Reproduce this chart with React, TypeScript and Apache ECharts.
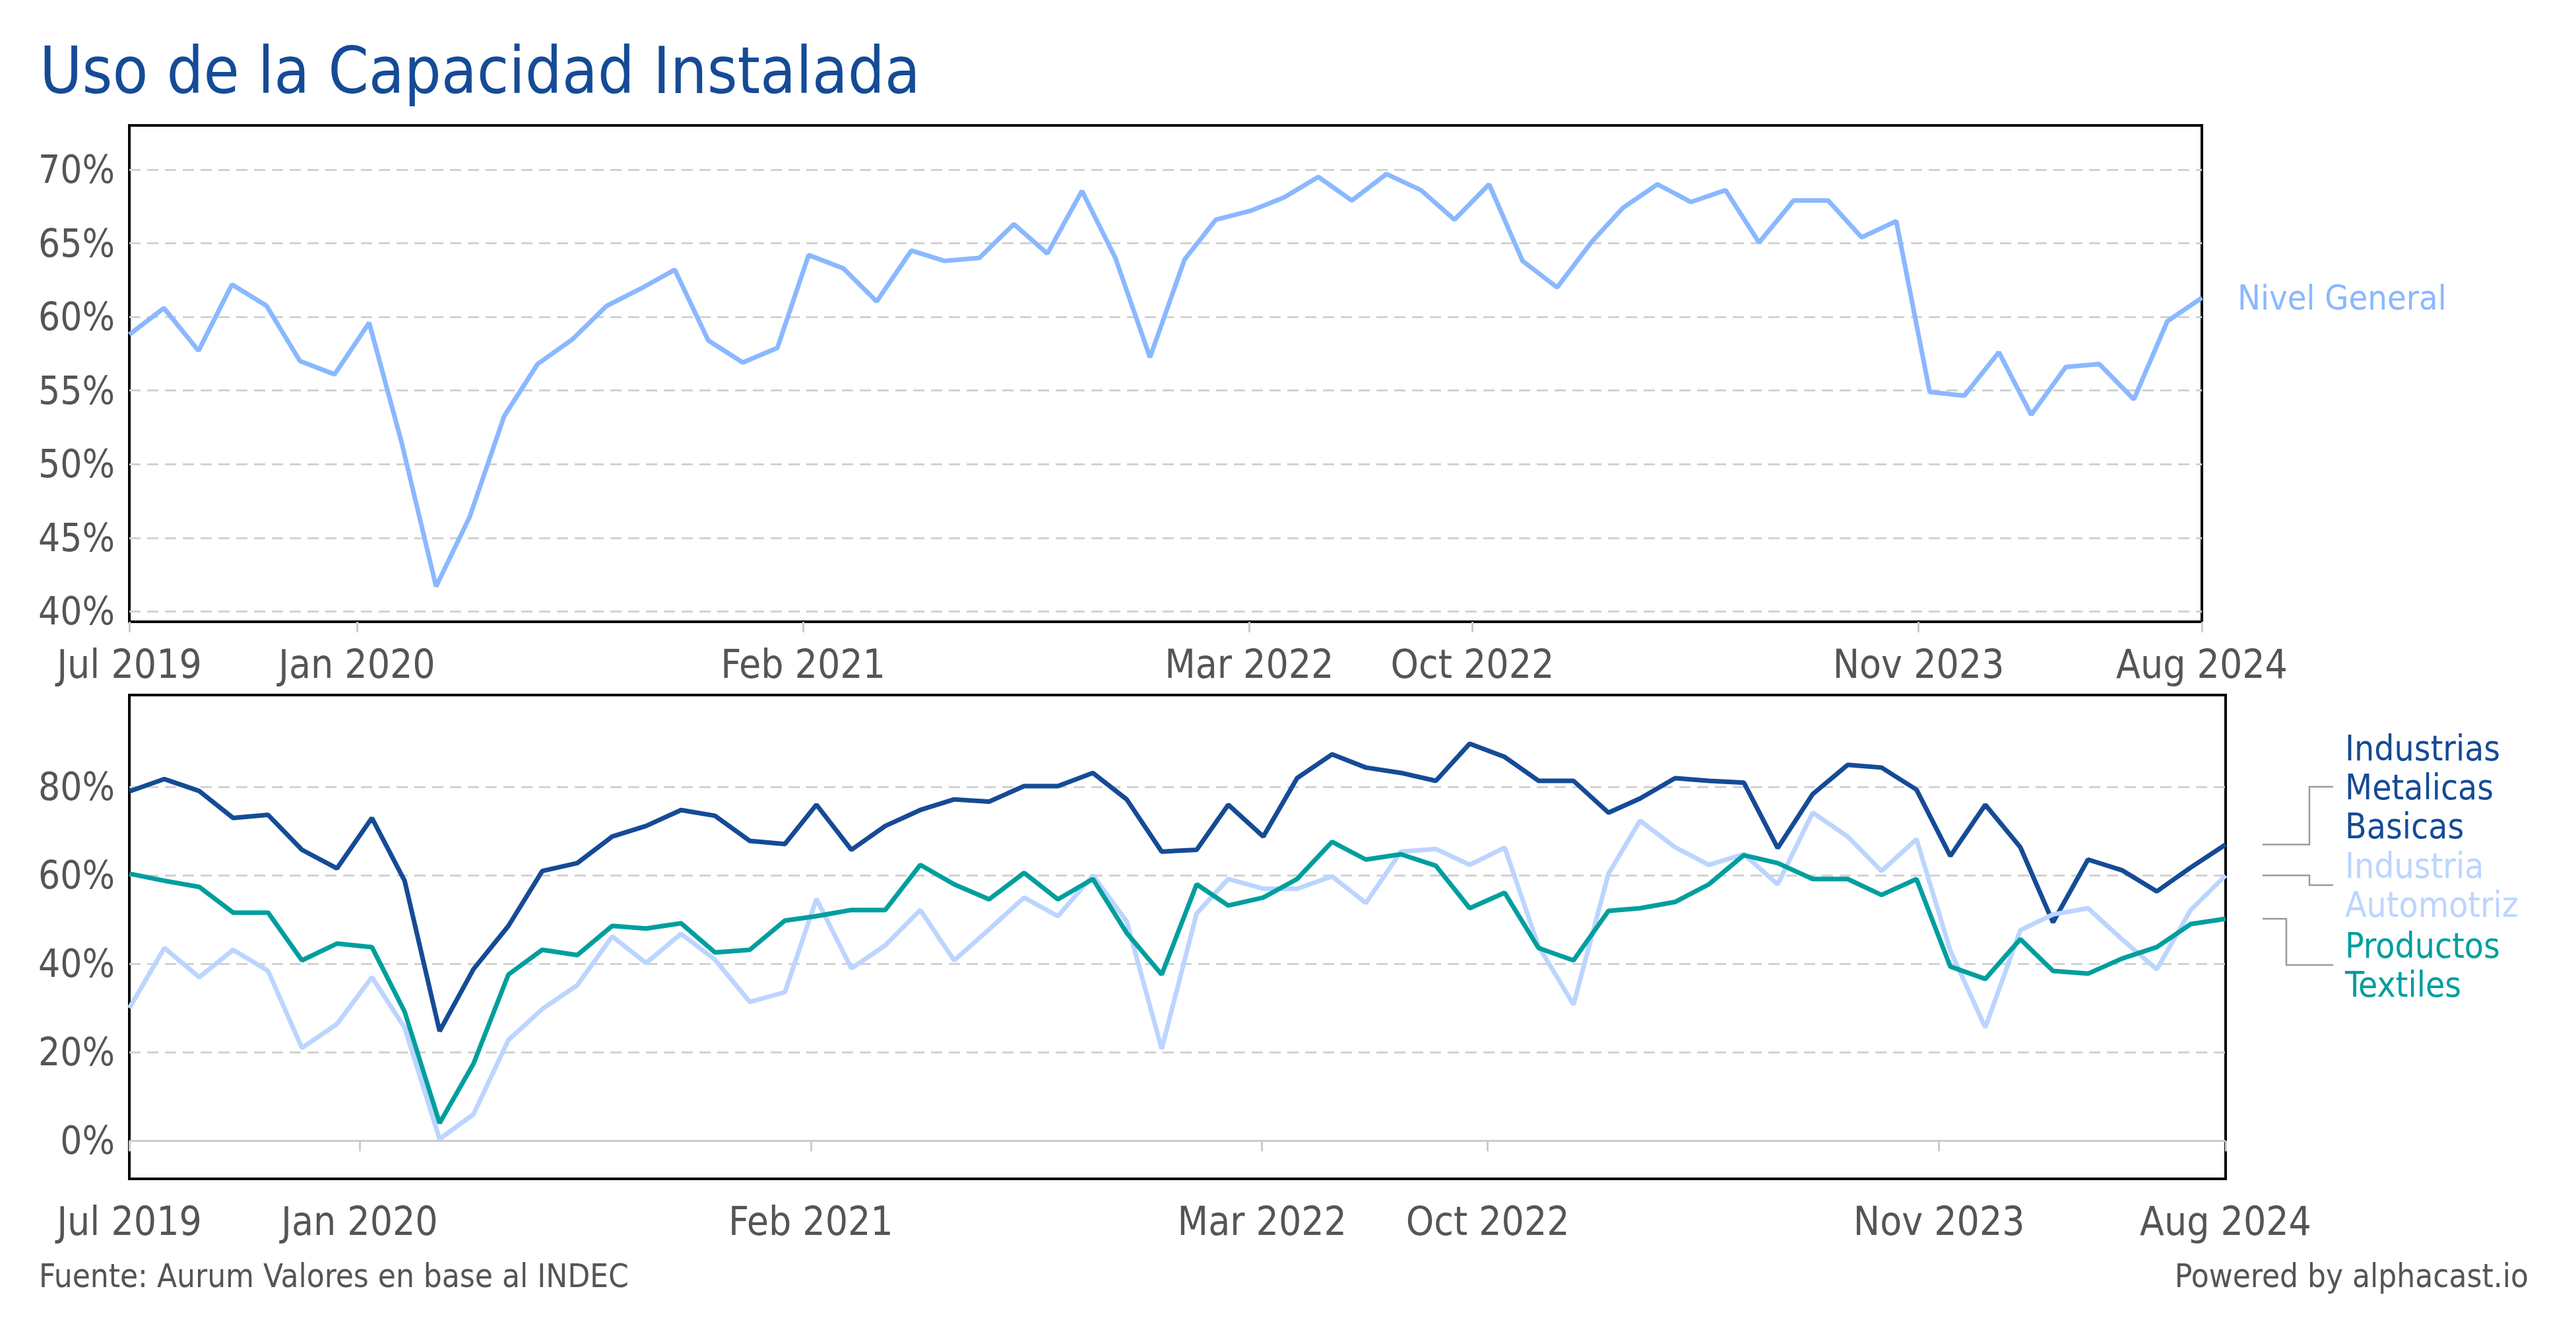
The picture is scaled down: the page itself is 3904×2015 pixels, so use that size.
import React, { useEffect, useRef } from 'react';
import * as echarts from 'echarts';

const FONT = '"DejaVu Sans Condensed", "DejaVu Sans", sans-serif';

const months = [
  '2019-07-01', '2019-08-01', '2019-09-01', '2019-10-01', '2019-11-01', '2019-12-01',
  '2020-01-01', '2020-02-01', '2020-03-01', '2020-04-01', '2020-05-01', '2020-06-01',
  '2020-07-01', '2020-08-01', '2020-09-01', '2020-10-01', '2020-11-01', '2020-12-01',
  '2021-01-01', '2021-02-01', '2021-03-01', '2021-04-01', '2021-05-01', '2021-06-01',
  '2021-07-01', '2021-08-01', '2021-09-01', '2021-10-01', '2021-11-01', '2021-12-01',
  '2022-01-01', '2022-02-01', '2022-03-01', '2022-04-01', '2022-05-01', '2022-06-01',
  '2022-07-01', '2022-08-01', '2022-09-01', '2022-10-01', '2022-11-01', '2022-12-01',
  '2023-01-01', '2023-02-01', '2023-03-01', '2023-04-01', '2023-05-01', '2023-06-01',
  '2023-07-01', '2023-08-01', '2023-09-01', '2023-10-01', '2023-11-01', '2023-12-01',
  '2024-01-01', '2024-02-01', '2024-03-01', '2024-04-01', '2024-05-01', '2024-06-01',
  '2024-07-01', '2024-08-01',
];

const nivelGeneral = [
  58.8, 60.6, 57.7, 62.2, 60.75, 57.0, 56.1, 59.6, 51.5, 41.7,
  46.4, 53.25, 56.8, 58.46, 60.75, 61.9, 63.2, 58.4, 56.9, 57.9,
  64.2, 63.3, 61.05, 64.5, 63.8, 64.0, 66.3, 64.3, 68.55, 64.0,
  57.25, 63.9, 66.6, 67.2, 68.1, 69.5, 67.9, 69.7, 68.6, 66.6,
  69.0, 63.8, 62.0, 65.1, 67.4, 69.0, 67.8, 68.6, 65.05, 67.9,
  67.9, 65.4, 66.5, 54.9, 54.65, 57.6, 53.35, 56.6, 56.8, 54.4,
  59.7, 61.3,
];

const metalicas = [
  79.0, 81.8, 79.1, 73.0, 73.7, 65.8, 61.6, 73.0, 58.8, 24.8,
  38.8, 48.6, 61.0, 62.8, 68.8, 71.2, 74.8, 73.5, 67.8, 67.1,
  76.0, 65.8, 71.2, 74.8, 77.2, 76.7, 80.2, 80.2, 83.2, 77.2,
  65.4, 65.8, 76.0, 68.8, 82.0, 87.4, 84.4, 83.2, 81.4, 89.8,
  86.8, 81.4, 81.4, 74.2, 77.4, 82.0, 81.4, 81.0, 66.2, 78.4,
  85.0, 84.4, 79.4, 64.4, 76.0, 66.4, 49.4, 63.6, 61.2, 56.4,
  61.8, 67.0,
];

const automotriz = [
  30.0, 43.6, 37.0, 43.2, 38.4, 21.0, 26.4, 37.0, 25.6, 0.4,
  6.0, 22.8, 29.8, 35.2, 46.2, 40.2, 46.8, 41.0, 31.4, 33.6,
  54.7, 39.0, 44.2, 52.2, 40.8, 47.8, 55.0, 50.8, 60.0, 49.6,
  20.8, 51.4, 59.2, 57.0, 57.0, 59.8, 53.8, 65.4, 66.0, 62.4,
  66.3, 44.0, 30.8, 60.4, 72.4, 66.4, 62.4, 64.8, 58.0, 74.2,
  68.8, 61.0, 68.2, 43.0, 25.6, 47.6, 51.2, 52.6, 45.6, 38.8,
  52.2, 60.0,
];

const textiles = [
  60.4, 58.8, 57.4, 51.6, 51.6, 40.8, 44.6, 43.8, 29.2, 4.0,
  17.4, 37.6, 43.2, 42.0, 48.6, 48.0, 49.2, 42.6, 43.2, 49.8,
  50.8, 52.2, 52.2, 62.4, 58.0, 54.6, 60.6, 54.6, 59.2, 47.0,
  37.6, 58.0, 53.2, 55.0, 59.2, 67.6, 63.6, 64.8, 62.2, 52.6,
  56.1, 43.6, 40.8, 52.0, 52.6, 54.0, 58.0, 64.6, 62.8, 59.2,
  59.2, 55.6, 59.2, 39.4, 36.6, 45.6, 38.4, 37.8, 41.2, 43.8,
  49.0, 50.2,
];

const xTickDates = ['2019-07-01', '2020-01-21', '2021-02-24', '2022-03-31', '2022-10-17', '2023-11-21', '2024-08-01'];
const xTickLabels = ['Jul 2019', 'Jan 2020', 'Feb 2021', 'Mar 2022', 'Oct 2022', 'Nov 2023', 'Aug 2024'];
const bottomGridValues = [0, 20, 40, 60, 80];

const NG_COLOR = '#8AB8FF';
const MET_COLOR = '#154B96';
const AUTO_COLOR = '#BCD5FF';
const TEX_COLOR = '#009E9E';
const TEXT_GRAY = '#555555';
const GRID_GRAY = '#d2d2d2';

const DAY = 86400000;
function toDays(s: string) {
  const [y, m, d] = s.split('-').map(Number);
  return Math.round(Date.UTC(y, m - 1, d || 1) / DAY);
}

export default function App() {
  const ref = useRef<HTMLDivElement>(null);

  useEffect(() => {
    const chart = echarts.init(ref.current!, null, { renderer: 'svg' });
    const days = months.map(toDays);
    const tickDays = xTickDates.map(toDays);
    const pair = (vals: number[]) => vals.map((v, i) => [days[i], v]);
    const labelFor = (v: number) => {
      let best = 0;
      let bd = Infinity;
      tickDays.forEach((t, i) => {
        const d = Math.abs(t - v);
        if (d < bd) { bd = d; best = i; }
      });
      return bd < 2 ? xTickLabels[best] : '';
    };

    const xAxisFor = (gridIndex: number) => ({
      type: 'value',
      gridIndex,
      min: days[0],
      max: days[days.length - 1],
      axisLine: { show: false },
      axisTick: { show: true, length: 16, customValues: tickDays, lineStyle: { color: '#cccccc', width: 3 } },
      axisLabel: {
        show: true,
        customValues: tickDays,
        formatter: (v: number) => labelFor(v),
        fontSize: 60,
        fontFamily: FONT,
        color: TEXT_GRAY,
        margin: 34,
        showMinLabel: true,
        showMaxLabel: true,
        hideOverlap: false,
      },
      splitLine: { show: false },
    });

    const lineBase = (name: string, color: string, data: number[], xi: number, yi: number) => ({
      name,
      type: 'line',
      xAxisIndex: xi,
      yAxisIndex: yi,
      data: pair(data),
      showSymbol: false,
      symbol: 'none',
      lineStyle: { color, width: 7 },
      itemStyle: { color },
      emphasis: { disabled: true },
      silent: true,
    });

    chart.setOption({
      animation: false,
      backgroundColor: '#ffffff',
      grid: [
        { left: 196, top: 190, width: 3141, height: 752, show: true, borderColor: '#000', borderWidth: 4, backgroundColor: 'transparent', containLabel: false },
        { left: 196, top: 1053, width: 3177, height: 733, show: true, borderColor: '#000', borderWidth: 4, backgroundColor: 'transparent', containLabel: false },
      ],
      xAxis: [xAxisFor(0), xAxisFor(1)],
      yAxis: [
        {
          type: 'value',
          gridIndex: 0,
          min: 39.3,
          max: 73,
          splitNumber: 7,
          axisLine: { show: false },
          axisTick: { show: false },
          axisLabel: {
            formatter: '{value}%',
            fontSize: 58,
            fontFamily: FONT,
            color: TEXT_GRAY,
            margin: 22,
            showMinLabel: false,
            showMaxLabel: false,
          },
          splitLine: { show: true, showMinLine: false, showMaxLine: false, lineStyle: { color: GRID_GRAY, width: 3, type: [17, 10] } },
        },
        {
          type: 'value',
          gridIndex: 1,
          min: -8.6,
          max: 100.8,
          splitNumber: 5,
          axisLine: { show: false },
          axisTick: { show: false },
          axisLabel: {
            formatter: (v: number) => (bottomGridValues.indexOf(Math.round(v * 1000) / 1000) >= 0 ? v + '%' : ''),
            fontSize: 58,
            fontFamily: FONT,
            color: TEXT_GRAY,
            margin: 22,
            showMinLabel: false,
            showMaxLabel: false,
          },
          splitLine: { show: false },
        },
      ],
      series: [
        {
          ...lineBase('Nivel General', NG_COLOR, nivelGeneral, 0, 0),
          endLabel: {
            show: true,
            formatter: 'Nivel General',
            color: NG_COLOR,
            fontSize: 52,
            fontFamily: FONT,
            distance: 54,
          },
        },
        {
          ...lineBase('Industrias Metalicas Basicas', MET_COLOR, metalicas, 1, 1),
          markLine: {
            silent: true,
            symbol: 'none',
            z: 1,
            label: { show: false },
            emphasis: { disabled: true },
            data: bottomGridValues.map((v) => ({
              yAxis: v,
              lineStyle: v === 0
                ? { color: '#cccccc', width: 3, type: 'solid' }
                : { color: GRID_GRAY, width: 3, type: [17, 10] },
            })),
          },
        },
        lineBase('Industria Automotriz', AUTO_COLOR, automotriz, 1, 1),
        lineBase('Productos Textiles', TEX_COLOR, textiles, 1, 1),
      ],
    });

    const lastIdx = days.length - 1;
    const lastD = days[lastIdx];
    const legendItems = [
      { text: 'Industrias\nMetalicas\nBasicas', color: MET_COLOR, value: metalicas[lastIdx], cy: 1192, elbowX: 3500 },
      { text: 'Industria\nAutomotriz', color: AUTO_COLOR, value: automotriz[lastIdx], cy: 1341, elbowX: 3500 },
      { text: 'Productos\nTextiles', color: TEX_COLOR, value: textiles[lastIdx], cy: 1462, elbowX: 3465 },
    ];

    const graphics: any[] = [
      {
        type: 'text',
        x: 60,
        y: 107,
        style: { text: 'Uso de la Capacidad Instalada', fill: MET_COLOR, fontSize: 98, fontFamily: FONT, align: 'left', verticalAlign: 'middle' },
      },
      {
        type: 'text',
        x: 59,
        y: 1933,
        style: { text: 'Fuente: Aurum Valores en base al INDEC', fill: TEXT_GRAY, fontSize: 49, fontFamily: FONT, align: 'left', verticalAlign: 'middle' },
      },
      {
        type: 'text',
        x: 3832,
        y: 1933,
        style: { text: 'Powered by alphacast.io', fill: TEXT_GRAY, fontSize: 49, fontFamily: FONT, align: 'right', verticalAlign: 'middle' },
      },
    ];

    legendItems.forEach((it) => {
      const p = chart.convertToPixel({ gridIndex: 1 } as any, [lastD, it.value]) as number[];
      const y0 = p[1];
      const x0 = p[0] + 56;
      graphics.push({
        type: 'polyline',
        shape: { points: [[x0, y0], [it.elbowX, y0], [it.elbowX, it.cy], [3536, it.cy]] },
        style: { stroke: '#9a9a9a', lineWidth: 2.5, fill: 'none' },
        silent: true,
      });
      graphics.push({
        type: 'text',
        x: 3554,
        y: it.cy,
        style: { text: it.text, fill: it.color, fontSize: 53, fontFamily: FONT, align: 'left', verticalAlign: 'middle', lineHeight: 59 },
      });
    });

    chart.setOption({ graphic: graphics });

    return () => chart.dispose();
  }, []);

  return <div ref={ref} style={{ position: 'fixed', left: 0, top: 0, width: 3904, height: 2015, background: '#fff' }} />;
}
